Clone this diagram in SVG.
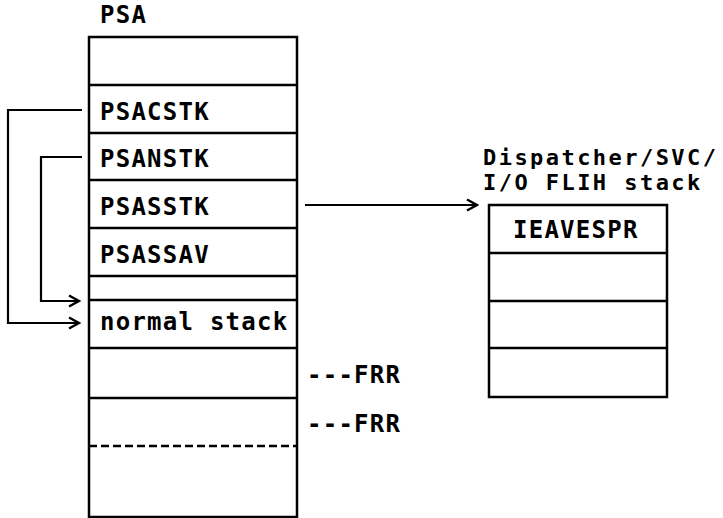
<svg xmlns="http://www.w3.org/2000/svg" width="723" height="518" viewBox="0 0 723 518">
<defs>
<style>
text{font-family:"DejaVu Sans Mono","Liberation Mono",monospace;font-weight:bold;font-size:24px;letter-spacing:1.25px;fill:#000}
text.hd{font-size:22px;letter-spacing:2.45px}
.box{fill:#fff;stroke:#000;stroke-width:2.5}
.ln{stroke:#000;stroke-width:2.5;fill:none}
.dash{stroke:#000;stroke-width:2.5;stroke-dasharray:8 4;fill:none}
.conn{stroke:#000;stroke-width:2.2;fill:none}
</style>
<marker id="chev" markerUnits="userSpaceOnUse" markerWidth="14" markerHeight="14" viewBox="0 0 14 14" refX="12" refY="7" orient="auto">
<path d="M2,1.5 L12,7 L2,12.5" fill="none" stroke="#000" stroke-width="2.4"/>
</marker>
</defs>
<text x="100" y="23">PSA</text>
<g id="psa">
<rect class="box" x="89" y="37" width="208" height="480"/>
<line class="ln" x1="89" y1="85" x2="297" y2="85"/>
<line class="ln" x1="89" y1="133" x2="297" y2="133"/>
<line class="ln" x1="89" y1="180" x2="297" y2="180"/>
<line class="ln" x1="89" y1="228" x2="297" y2="228"/>
<line class="ln" x1="89" y1="276" x2="297" y2="276"/>
<line class="ln" x1="89" y1="300" x2="297" y2="300"/>
<line class="ln" x1="89" y1="348" x2="297" y2="348"/>
<line class="ln" x1="89" y1="398" x2="297" y2="398"/>
<line class="dash" x1="89" y1="446" x2="297" y2="446"/>
<text x="100" y="120">PSACSTK</text>
<text x="100" y="167">PSANSTK</text>
<text x="100" y="215">PSASSTK</text>
<text x="100" y="263">PSASSAV</text>
<text x="100" y="330">normal stack</text>
</g>
<g id="frr1"><text x="307" y="383">---FRR</text></g>
<g id="frr2"><text x="307" y="432">---FRR</text></g>
<g id="flih">
<text class="hd" x="483" y="165">Dispatcher/SVC/</text>
<text class="hd" x="483" y="190">I/O FLIH stack</text>
<rect class="box" x="489" y="205" width="178" height="192"/>
<line class="ln" x1="489" y1="253" x2="667" y2="253"/>
<line class="ln" x1="489" y1="301" x2="667" y2="301"/>
<line class="ln" x1="489" y1="348" x2="667" y2="348"/>
<text x="513" y="238">IEAVESPR</text>
</g>
<g id="connectors">
<path class="conn" d="M82,110 H8 V323 H79" marker-end="url(#chev)"/>
<path class="conn" d="M82,157 H41 V301 H79" marker-end="url(#chev)"/>
<path class="conn" d="M305,205 H477" marker-end="url(#chev)"/>
</g>
</svg>
